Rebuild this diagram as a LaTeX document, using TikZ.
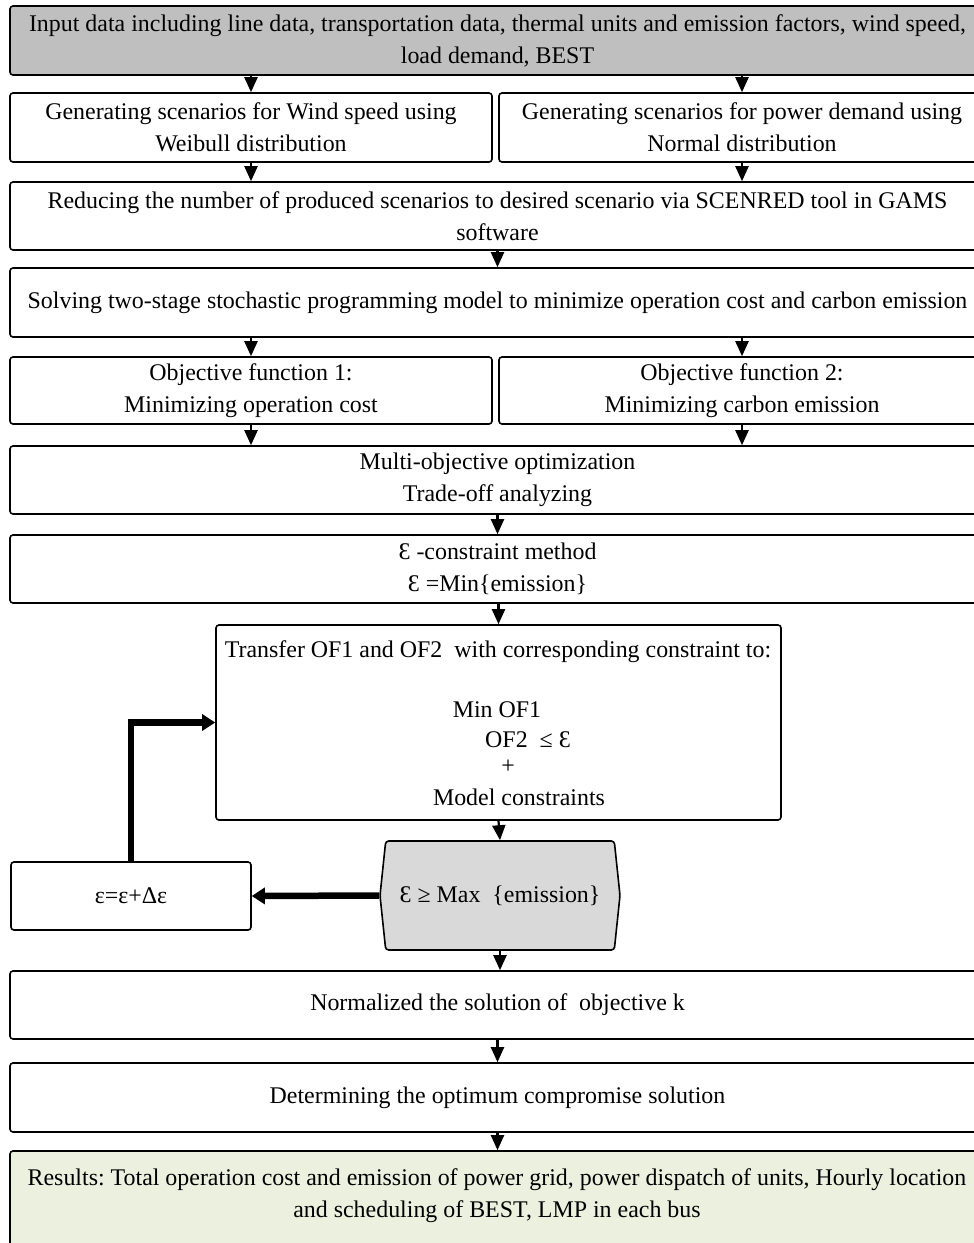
\documentclass[tikz,border=0pt]{standalone}
\usepackage{fontspec}
\setmainfont{Liberation Serif}
\usetikzlibrary{arrows.meta,shapes.symbols}
\definecolor{topgray}{HTML}{BFBFBF}
\definecolor{hexgray}{HTML}{D9D9D9}
\definecolor{resgreen}{HTML}{EBF1DE}
\frenchspacing
\tikzset{
  box/.style={draw, line width=1.6bp, rounded corners=3bp, inner sep=0pt, align=center,
    font=\fontsize{24}{32}\selectfont},
  txt/.style={inner sep=0pt, align=center, font=\fontsize{24}{32}\selectfont},
  flow/.style={line width=2.2bp, line cap=round, -{Triangle[width=13bp,length=15bp]}},
  fat/.style={line width=6.5bp, -{Triangle[width=16bp,length=13bp]}},
}
\begin{document}
\begin{tikzpicture}[x=1bp,y=-1bp]
\useasboundingbox (0,0) rectangle (974,1243);
\clip (0,0) rectangle (974,1243);
% boxes
\node[box, fill=topgray, minimum width=975bp, minimum height=69bp] (in) at (497.5,40.5)
  {Input data including line data, transportation data, thermal units and emission factors, wind speed,\\ load demand, BEST};
\node[box, minimum width=482bp, minimum height=69bp] (w) at (251,127.5)
  {Generating scenarios for Wind speed using\\ Weibull distribution};
\node[box, minimum width=486bp, minimum height=69bp] (d) at (742,127.5)
  {Generating scenarios for power demand using\\ Normal distribution};
\node[box, minimum width=975bp, minimum height=68bp] (red) at (497.5,216)
  {Reducing the number of produced scenarios to desired scenario via SCENRED tool in GAMS\\ software};
\node[box, minimum width=975bp, minimum height=69bp] (solve) at (497.5,302.5)
  {Solving two-stage stochastic programming model to minimize operation cost and carbon emission};
\node[box, minimum width=482bp, minimum height=67bp] (of1) at (251,390.5)
  {Objective function 1:\\ Minimizing operation cost};
\node[box, minimum width=486bp, minimum height=67bp] (of2) at (742,390.5)
  {Objective function 2:\\ Minimizing carbon emission};
\node[box, minimum width=975bp, minimum height=68bp] (moo) at (497.5,480)
  {Multi-objective optimization\\ Trade-off analyzing};
\node[box, minimum width=975bp, minimum height=68bp] (ec) at (497.5,569)
  {Ɛ -constraint method\\ Ɛ =Min\{emission\}};
\node[box, minimum width=565bp, minimum height=195bp] (tr) at (498.5,722.5) {};
\node[txt] (t1) at (498,652) {Transfer OF1 and OF2\ \ with corresponding constraint to:};
\node[txt] (t2) at (497,710) {Min OF1};
\node[txt] (t3) at (528,740) {OF2\ \ ≤ Ɛ};
\node[txt] (t4) at (508,767) {+};
\node[txt] (t5) at (519,797) {Model constraints};
\node[box, shape=signal, signal to=west and east, signal pointer angle=168, fill=hexgray,
  minimum width=240bp, minimum height=109bp] (hex) at (500,895.5) {Ɛ ≥ Max\ \ \{emission\}};
\node[box, minimum width=240bp, minimum height=68bp] (eps) at (131,896) {ε=ε+Δε};
\node[box, minimum width=975bp, minimum height=68bp] (norm) at (497.5,1005)
  {Normalized the solution of\ \ objective k};
\node[box, minimum width=975bp, minimum height=69bp] (det) at (497.5,1097.5)
  {Determining the optimum compromise solution};
\node[box, fill=resgreen, minimum width=975bp, minimum height=100bp] (res) at (497.5,1201) {};
\node[txt] (rt) at (497,1196)
  {Results: Total operation cost and emission of power grid, power dispatch of units, Hourly location\\ and scheduling of BEST, LMP in each bus};
% connectors
\draw[flow] (w.north |- in.south) -- (w.north);
\draw[flow] (d.north |- in.south) -- (d.north);
\draw[flow] (w.south) -- (w.south |- red.north);
\draw[flow] (d.south) -- (d.south |- red.north);
\draw[flow] (red.south) -- (solve.north);
\draw[flow] (of1.north |- solve.south) -- (of1.north);
\draw[flow] (of2.north |- solve.south) -- (of2.north);
\draw[flow] (of1.south) -- (of1.south |- moo.north);
\draw[flow] (of2.south) -- (of2.south |- moo.north);
\draw[flow] (moo.south) -- (ec.north);
\draw[flow] (ec.south -| tr.north) -- (tr.north);
\draw[flow] (tr.south) -- (hex.north);
\draw[flow] (hex.south) -- (hex.south |- norm.north);
\draw[flow] (norm.south) -- (det.north);
\draw[flow] (det.south) -- (res.north);
\draw[fat] (hex.west) -- (eps.east);
\draw[fat] (eps.north) |- (tr.west);
\end{tikzpicture}
\end{document}
